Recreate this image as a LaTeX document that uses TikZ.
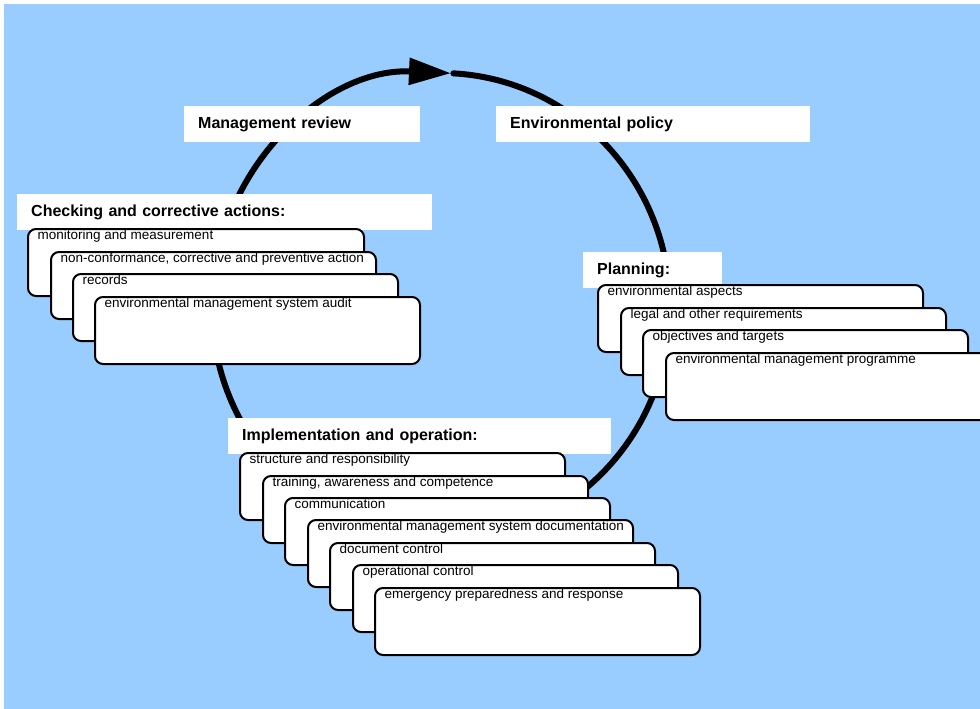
\documentclass[tikz,border=0pt]{standalone}
\usepackage{fontspec}
\setmainfont{Liberation Sans}
\usetikzlibrary{arrows.meta}
\definecolor{bgblue}{HTML}{99CCFF}
\tikzset{
  lbl/.style={fill=white, anchor=north west, inner xsep=14pt, inner ysep=0pt,
    text height=22pt, text depth=13.5pt, align=left,
    font=\bfseries\fontsize{16}{19}\selectfont},
  sbox/.style={draw=black, line width=2pt, fill=white, rounded corners=8pt,
    anchor=north west, minimum width=325pt, minimum height=67pt, inner sep=0pt},
  stxt/.style={anchor=base west, inner sep=0pt, font=\fontsize{13.5}{16}\selectfont},
  cycle/.style={line width=6pt, -{Triangle[length=42pt,width=26pt]}}
}
\newcommand\sbx[5][]{%
  \node[sbox,#1] (#2) at (#3,#4) {};
  \node[stxt] (#2t) at ([shift={(10.5pt,-11pt)}]#2.north west) {#5};}
\begin{document}
\begin{tikzpicture}[x=1pt,y=-1pt]
\useasboundingbox (0,0) rectangle (980,709);
\clip (0,0) rectangle (980,709);
\fill[white] (0,0) rectangle (980,709);
\fill[bgblue] (4,4) rectangle (980,709);
% cycle arrow
\coordinate (c) at (441,307);
\draw[cycle] (c) ++(-86.9:229 and 234)
  arc[start angle=-86.9, end angle=272.5, x radius=229, y radius=234];
\fill (c) ++(-86.9:229 and 234) circle[radius=3pt];
% labels
\node[lbl, text width=208pt] (mr) at (184,106) {Management review};
\node[lbl, text width=286pt] (ep) at (496,106) {Environmental policy};
\node[lbl, text width=387pt] (ck) at (17,194) {Checking and corrective actions:};
\node[lbl, text width=111pt] (pl) at (583,252) {Planning:};
\node[lbl, text width=355pt] (im) at (228,418) {Implementation and operation:};
% checking boxes
\sbx[minimum width=336pt]{c1}{27}{228}{monitoring and measurement}
\sbx{c2}{50}{251}{non-conformance, corrective and preventive action}
\sbx{c3}{72}{273}{records}
\sbx{c4}{94}{296}{environmental management system audit}
% planning boxes
\sbx{p1}{597}{284}{environmental aspects}
\sbx{p2}{620}{307}{legal and other requirements}
\sbx{p3}{642}{329}{objectives and targets}
\sbx{p4}{665}{352}{environmental management programme}
% implementation boxes
\sbx{i1}{239}{452}{structure and responsibility}
\sbx{i2}{262}{475}{training, awareness and competence}
\sbx{i3}{284}{497}{communication}
\sbx{i4}{307}{519}{environmental management system documentation}
\sbx{i5}{329}{542}{document control}
\sbx{i6}{352}{564}{operational control}
\sbx{i7}{374}{587}{emergency preparedness and response}
\end{tikzpicture}
\end{document}
